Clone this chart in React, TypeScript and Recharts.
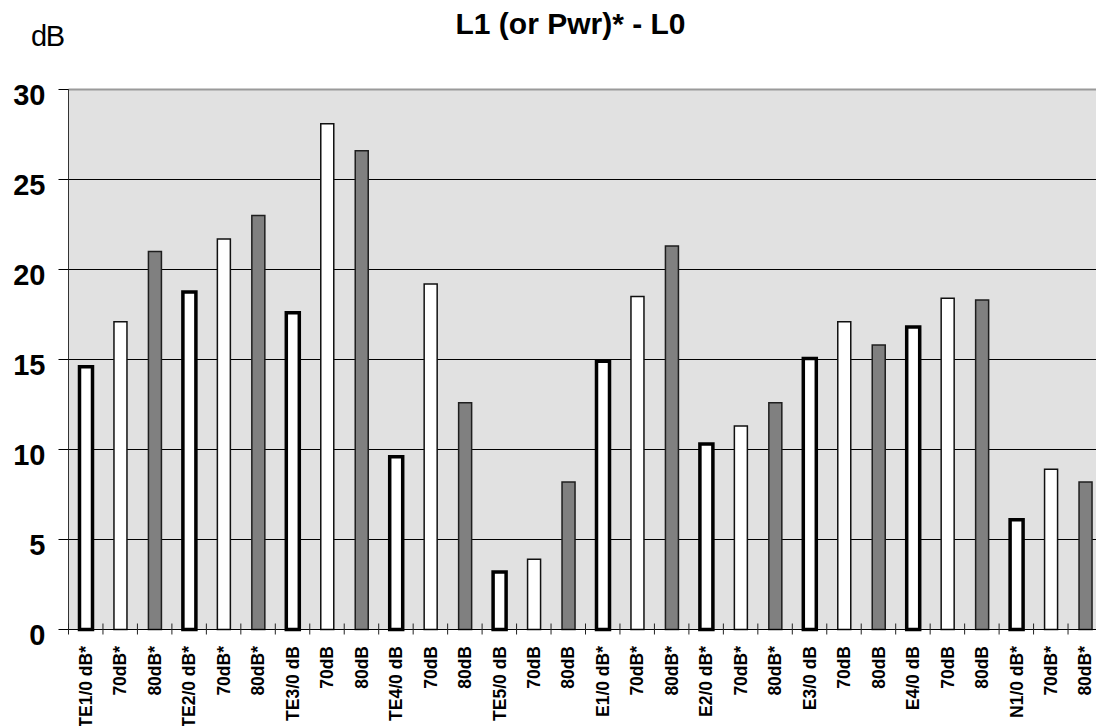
import { BarChart, Bar, Cell, XAxis, YAxis, CartesianGrid, ReferenceLine } from "recharts";

// categories along the x axis (three bars per sample: 0 dB reference, 70 dB, 80 dB)
const categories = [
    "TE1/0 dB*", "70dB*", "80dB*",
    "TE2/0 dB*", "70dB*", "80dB*",
    "TE3/0 dB", "70dB", "80dB",
    "TE4/0 dB", "70dB", "80dB",
    "TE5/0 dB", "70dB", "80dB",
    "E1/0 dB*", "70dB*", "80dB*",
    "E2/0 dB*", "70dB*", "80dB*",
    "E3/0 dB", "70dB", "80dB",
    "E4/0 dB", "70dB", "80dB",
    "N1/0 dB*", "70dB*", "80dB*",
];

// L1 (or Pwr) - L0, in dB
const diffValues = [
    14.6, 17.1, 21.0,
    18.75, 21.7, 23.0,
    17.6, 28.1, 26.6,
    9.6, 19.2, 12.6,
    3.2, 3.9, 8.2,
    14.9, 18.5, 21.3,
    10.3, 11.3, 12.6,
    15.05, 17.1, 15.8,
    16.8, 18.4, 18.3,
    6.1, 8.9, 8.2,
];

const yTicks = [0, 5, 10, 15, 20, 25, 30];

const font = "'Liberation Sans', Arial, sans-serif";

// style per position inside a group of three
const barStyles = [
    { fill: "#ffffff", stroke: "#000000", strokeWidth: 3.5 },
    { fill: "#ffffff", stroke: "#111111", strokeWidth: 1.5 },
    { fill: "#808080", stroke: "#1e1e1e", strokeWidth: 1.5 },
];

const chartData = categories.map((c, i) => ({ idx: i, label: c, value: diffValues[i] }));

const YTick = (props: any) => {
    const { x, y, payload } = props;
    return (
        <text x={x - 11} y={y + 15.5} textAnchor="end" fontFamily={font} fontWeight="bold" fontSize={29} fill="#000">
            {payload.value}
        </text>
    );
};

const XTick = (props: any) => {
    const { x, y, payload } = props;
    const half = payload?.offset ?? 17.2;
    const label = categories[payload.value] ?? "";
    const ty = y + 16.5;
    return (
        <g>
            <line x1={x - half} x2={x - half} y1={y - 6} y2={y + 5} stroke="#222" strokeWidth={1} />
            <text
                x={x}
                y={ty}
                dy={6.2}
                textAnchor="end"
                transform={`rotate(-90, ${x}, ${ty})`}
                fontFamily={font}
                fontWeight="bold"
                fontSize={17.5}
                fill="#000"
            >
                {label}
            </text>
        </g>
    );
};

export default function App() {
    return (
        <div style={{ position: "absolute", left: 0, top: 0, width: 1096, height: 726, overflow: "hidden", background: "#fff" }}>
            <div style={{ position: "absolute", left: 570.5, top: 9, transform: "translateX(-50%)", whiteSpace: "nowrap", fontFamily: font, fontWeight: "bold", fontSize: 30, lineHeight: "30px" }}>
                L1 (or Pwr)* - L0
            </div>
            <div style={{ position: "absolute", left: 31, top: 22, fontFamily: font, fontSize: 29, lineHeight: "29px", letterSpacing: -1.5 }}>
                dB
            </div>
            <div style={{ position: "absolute", left: 0, top: 0 }}>
                <BarChart width={1102.5} height={726} data={chartData} margin={{ top: 89.5, right: 0, bottom: 0, left: 8.5 }} barSize={13}>
                    <CartesianGrid vertical={false} stroke="#000" fill="#e1e1e1" fillOpacity={1} />
                    <ReferenceLine y={30} stroke="#9a9a9a" strokeWidth={2} />
                    <XAxis
                        dataKey="idx"
                        type="category"
                        height={96.5}
                        interval={0}
                        tickSize={0}
                        tickMargin={0}
                        tickLine={false}
                        axisLine={{ stroke: "#000", strokeWidth: 1 }}
                        tick={(p: any) => <XTick key={`x-${p.index}`} {...p} />}
                    />
                    <YAxis
                        domain={[0, 30]}
                        ticks={yTicks}
                        interval={0}
                        width={60}
                        tickSize={10}
                        tickMargin={2}
                        tickLine={{ stroke: "#000" }}
                        axisLine={{ stroke: "#333" }}
                        tick={(p: any) => <YTick key={`y-${p.index}`} {...p} />}
                    />
                    <Bar dataKey="value" isAnimationActive={false}>
                        {chartData.map((d, i) => {
                            const s = barStyles[i % 3];
                            return <Cell key={d.idx} fill={s.fill} stroke={s.stroke} strokeWidth={s.strokeWidth} />;
                        })}
                    </Bar>
                </BarChart>
            </div>
        </div>
    );
}
